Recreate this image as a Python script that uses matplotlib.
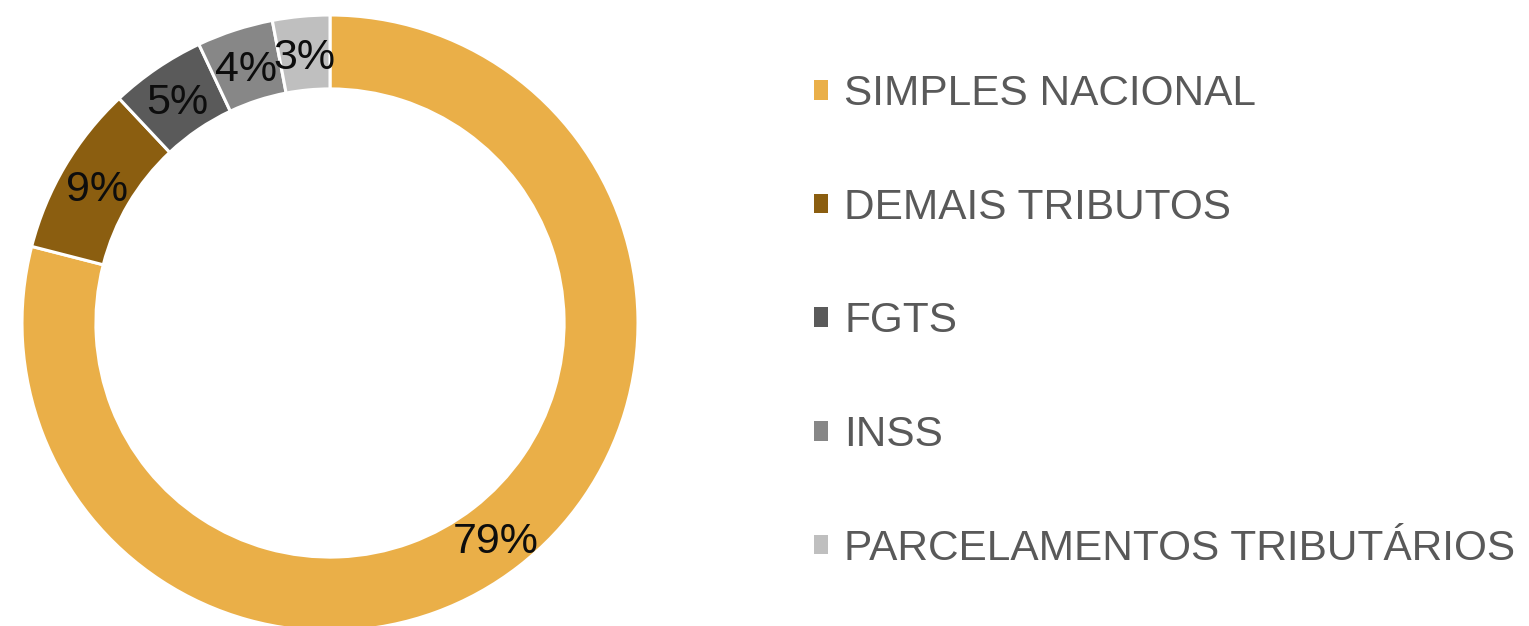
import numpy as np
import matplotlib.pyplot as plt

plt.rcParams['font.family'] = ['Liberation Sans', 'DejaVu Sans']

categorias = ['SIMPLES NACIONAL', 'DEMAIS TRIBUTOS', 'FGTS', 'INSS',
              'PARCELAMENTOS TRIBUTÁRIOS']
valores = [79, 9, 5, 4, 3]
cores = ['#EAAF48', '#8B5E10', '#5A5A5A', '#878787', '#BFBFBF']

W, H = 1529, 626
cx, cy, r = 330, 323, 308  # centro e raio do anel em pixels

fig = plt.figure(figsize=(W / 100, H / 100), dpi=100)
ax = fig.add_axes([0, 0, 1, 1])

wedges, textos = ax.pie(valores, colors=cores, startangle=90, counterclock=False,
                        radius=1, wedgeprops=dict(width=0.24, edgecolor='white', linewidth=2.2),
                        labels=None, labeldistance=None)

# rotulos de percentual no meio do anel
total = sum(valores)
ang = 90
for v in valores:
    meio = ang - v / total * 360 / 2
    ang -= v / total * 360
    rr = 0.88
    ax.text(rr * np.cos(np.radians(meio)), rr * np.sin(np.radians(meio)), f'{v}%',
            ha='center', va='center_baseline', fontsize=31, color='#0D0D0D')

ax.set_xlim(-cx / r, (W - cx) / r)
ax.set_ylim(-(H - cy) / r, cy / r)
ax.set_aspect('auto')
ax.axis('off')

leg = ax.legend(wedges, categorias, loc='upper left', bbox_to_anchor=(814 / W, 1 - 74 / H),
                frameon=False, fontsize=30.5, labelcolor='#595959',
                handlelength=0.33, handleheight=0.33, handletextpad=0.38,
                labelspacing=1.74, borderpad=0, borderaxespad=0)
for h in leg.legend_handles:
    h.set_linewidth(0)

fig.savefig('out.png', dpi=100)
